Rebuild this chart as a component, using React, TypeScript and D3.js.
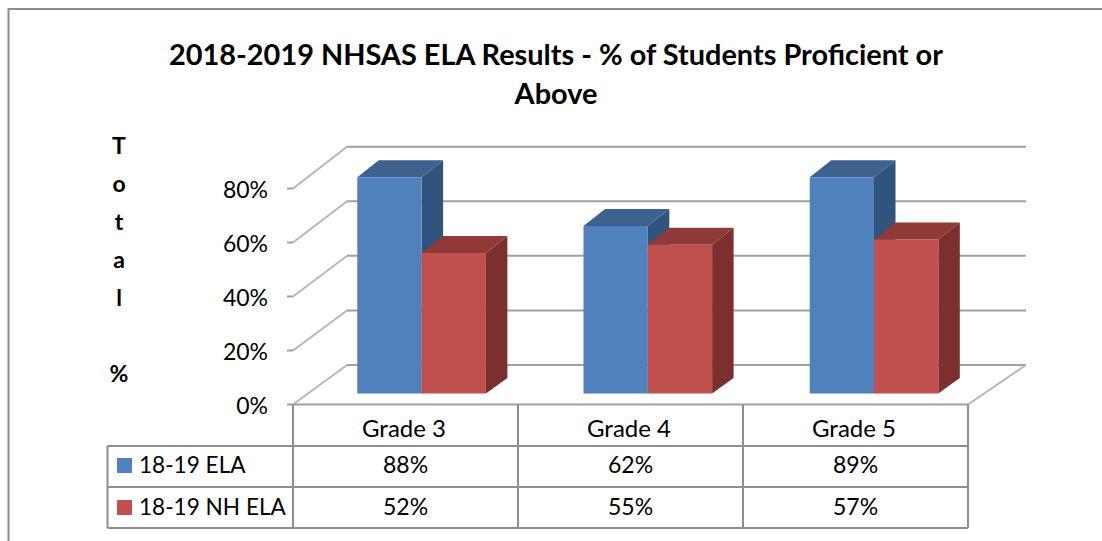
import React from "react";
import * as d3 from "d3";

const categories = ["Grade 3", "Grade 4", "Grade 5"];
const seriesNames = ["18-19 ELA", "18-19 NH ELA"];
const elaValues = [88, 62, 89];
const nhValues = [52, 55, 57];
const yTicks = [0, 20, 40, 60, 80];
const axisTitle = ["T", "o", "t", "a", "l", "", "%"];
const titleLines = ["2018-2019 NHSAS ELA Results - % of Students Proficient or", "Above"];

const colors = [
  { front: "#4f81bd", top: "#3d628f", side: "#31547c" },
  { front: "#c0504d", top: "#8f3a38", side: "#7c302e" },
];
const GRID = "#a0a0a0";
const TABLE = "#8e8e8e";
const FONT = "Lato, 'Open Sans', sans-serif";

const W = 1102, H = 541;
const dx = 21.5, dy = -17, dyBottom = -15.5;
const x = d3.scaleBand<string>().domain(categories).range([293, 968]);
const barBand = d3.scaleBand<string>().domain(categories).range([293.3, 971.9]);
const floorFront = 404.5;
const yAxis = d3.scaleLinear().domain([0, 80]).range([floorFront, 188.5]);
const yBack = d3.scaleLinear().domain([0, 80]).range([365, 146.7]);
const barY = d3.scaleLinear().domain([0, 80]).range([393.5, 177.3]).clamp(true);
const barW = 64.3;
const rowY = [446, 487, 528];

export default function App() {
  const series = [elaValues, nhValues];
  const backLeft = 347;
  const backRight = 1026;
  return (
    <svg width={W} height={H} style={{ position: "fixed", left: 0, top: 0, background: "#fff" }} fontFamily={FONT}>
      <path d="M8.5,541V9H1102" fill="none" stroke="#8c8c8c" strokeWidth={2} />
      {titleLines.map((t, i) => (
        <text key={t} x={556} y={65 + i * 39} textAnchor="middle" fontSize={28.9} fontWeight={700} fill="#000">{t}</text>
      ))}
      {axisTitle.map((c, i) => (
        <text key={i} x={119} y={154 + i * 38} textAnchor="middle" fontSize={23} fontWeight={700} fill="#000">{c}</text>
      ))}
      {yTicks.map((t) => {
        const y = yAxis(t);
        const by = yBack(t);
        return (
          <g key={t}>
            <path d={`M287,${y}H293`} fill="none" stroke={GRID} strokeWidth={2} />
            <path d={`M293,${y}L${backLeft},${by}`} fill="none" stroke="#b4b4b4" strokeWidth={1.8} />
            <path d={`M${backLeft},${by}H${backRight}`} fill="none" stroke={GRID} strokeWidth={2} />
            <text x={268} y={y + 9} textAnchor="end" fontSize={23} fill="#000">{t}%</text>
          </g>
        );
      })}
      <path d={`M968,${floorFront}L${backRight},${yBack(0)}`} fill="none" stroke="#b4b4b4" strokeWidth={1.8} />
      {categories.map((c, ci) => {
        const x0 = (barBand(c) as number) + 64;
        return (
          <g key={c}>
            {series.map((vals, si) => {
              const left = x0 + si * barW;
              const right = left + barW;
              const top = barY(vals[ci]);
              const bottom = barY(0);
              const col = colors[si];
              return (
                <g key={si}>
                  <path d={`M${left},${top}l${dx},${dy}H${right + dx}L${right},${top}Z`} fill={col.top} />
                  <path d={`M${right},${top}l${dx},${dy}V${bottom + dyBottom}L${right},${bottom}Z`} fill={col.side} />
                  <rect x={left} y={top} width={barW} height={bottom - top} fill={col.front} />
                </g>
              );
            })}
          </g>
        );
      })}
      <path d={`M293,${floorFront}H968`} stroke={GRID} strokeWidth={2} />
      <path d={`M107.5,${rowY[0]}H968M107.5,${rowY[1]}H968M107.5,${rowY[2]}H968M107.5,${rowY[0]}V${rowY[2]}`} fill="none" stroke={TABLE} strokeWidth={2} />
      {[293, 518, 743, 968].map((v) => (
        <path key={v} d={`M${v},${floorFront}V${rowY[2]}`} stroke={TABLE} strokeWidth={2} />
      ))}
      {categories.map((c, ci) => {
        const cx = (x(c) as number) + x.bandwidth() / 2;
        return (
          <g key={c} fontSize={23} textAnchor="middle" fill="#000">
            <text x={cx - 1.5} y={437} fontSize={24}>{c}</text>
            <text x={cx} y={473}>{elaValues[ci]}%</text>
            <text x={cx} y={515}>{nhValues[ci]}%</text>
          </g>
        );
      })}
      {seriesNames.map((s, i) => (
        <g key={s}>
          <rect x={117} y={458 + i * 42} width={15} height={15} fill={colors[i].front} />
          <text x={139} y={473 + i * 42} fontSize={22.6} fill="#000">{s}</text>
        </g>
      ))}
    </svg>
  );
}
